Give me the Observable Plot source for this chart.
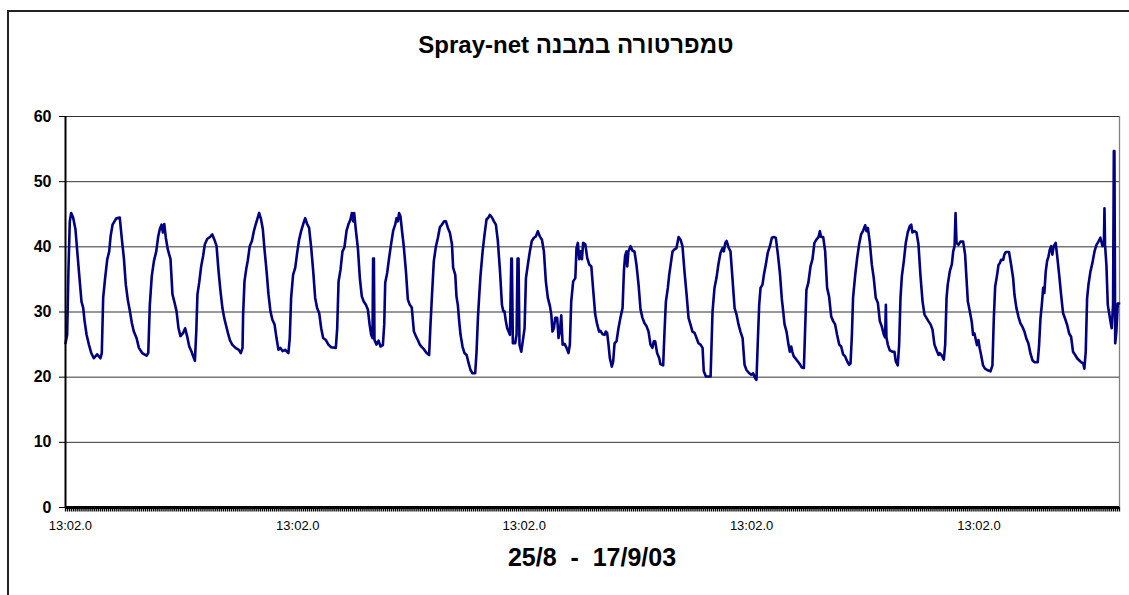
<!DOCTYPE html>
<html><head><meta charset="utf-8">
<script src="https://cdn.jsdelivr.net/npm/d3@7"></script>
<script src="https://cdn.jsdelivr.net/npm/@observablehq/plot@0.6"></script>
<style>
html,body{margin:0;padding:0;background:#fff;overflow:hidden;width:1129px;height:595px;}
#wrap{position:relative;width:1129px;height:595px;overflow:hidden;font-family:"Liberation Sans",Arial,Helvetica,sans-serif;color:#000;}
#frame{position:absolute;left:7px;top:10px;width:1300px;height:800px;border:2px solid #222;box-sizing:border-box;}
#chart{position:absolute;left:0;top:0;}
#title{position:absolute;left:0;width:1152px;top:31px;text-align:center;font-weight:bold;font-size:24px;line-height:28px;}
#xtitle{position:absolute;left:0;width:1184px;top:543px;text-align:center;font-weight:bold;font-size:25px;line-height:28px;white-space:pre;}
</style></head><body>
<div id="wrap">
<div id="frame"></div>
<div id="chart"></div>
<div id="title" dir="rtl">טמפרטורה במבנה Spray-net</div>
<div id="xtitle">25/8  -  17/9/03</div>
</div>
<script>
// Time since start of record (hours) and temperature (°C)
const hours = [
0,0.85,1.5,2.2,2.9,3.9,5.1,6.3,7.3,8.2,9.1,9.7,10.8,12.0,13.2,14.5,16.2,17.9,18.6,19.3,20.3,21.4,22.4,23.1,24.1,25.1,26.1,27.8,28.9,29.9,30.9,31.9,33.0,34.0,35.0,36.4,37.6,39.3,41.5,42.4,
43.2,44.2,45.3,46.5,47.5,48.3,49.2,49.9,50.6,51.4,52.4,53.8,54.8,55.9,56.9,57.9,58.9,60.3,61.3,62.3,63.4,64.6,65.4,66.3,67.0,67.6,68.5,69.5,70.5,71.4,72.6,74.0,75.2,76.3,77.4,78.4,79.4,80.4,81.3,82.2,83.2,84.2,85.4,87.1,88.8,89.8,90.7,
91.0,91.7,92.7,93.4,94.4,95.5,96.5,97.5,98.5,99.2,100.2,101.1,101.9,103.0,104.0,105.0,106.0,107.1,108.1,109.1,110.1,111.2,112.5,114.2,114.9,115.6,116.6,117.7,118.7,119.7,120.7,121.8,122.8,123.8,124.8,125.9,126.9,127.9,128.9,130.0,131.0,132.0,133.4,134.7,136.1,138.5,
139.2,139.9,140.9,141.9,142.9,144.0,145.0,146.0,146.7,147.4,147.9,148.7,149.8,150.8,151.8,152.8,153.9,154.9,155.8,156.6,157.3,157.6,158.0,158.3,159.3,160.4,161.4,162.6,163.3,163.8,164.8,165.8,166.9,167.9,168.9,169.6,170.3,170.9,171.6,172.5,173.3,174.4,175.4,176.4,177.4,178.5,179.5,180.5,181.5,182.6,
183.6,185.0,186.3,187.0,187.7,188.7,189.8,190.8,191.8,192.8,193.9,194.9,195.9,196.9,198.0,198.6,199.7,200.3,201.0,201.7,202.4,203.4,204.4,205.5,206.5,207.5,208.5,209.9,210.6,211.3,212.0,212.6,213.7,214.7,215.7,216.7,217.4,218.5,219.5,220.5,221.5,222.6,223.6,224.3,224.9,225.6,226.3,227.0,227.7,228.4,228.7,229.2,230.4,231.1,231.6,232.1,232.6,233.5,234.5,235.2,
235.9,236.9,237.9,238.9,240.0,241.0,242.0,243.0,244.1,245.1,246.1,247.1,248.2,248.9,249.5,250.2,250.9,251.9,252.6,253.3,254.0,254.7,255.7,256.7,257.7,258.4,259.1,260.1,261.2,261.8,262.5,263.2,263.9,264.6,265.2,266.3,267.3,268.3,269.4,270.4,271.4,272.4,273.4,
274.1,275.1,276.2,276.8,277.5,278.2,278.9,279.9,280.6,281.3,282.3,283.3,284.3,285.4,286.1,286.7,287.4,287.8,288.4,289.5,290.5,291.5,292.5,293.6,294.6,295.6,296.6,297.7,298.7,299.7,300.7,301.4,302.1,303.1,304.2,304.8,306.2,
306.9,307.6,308.6,309.3,310.3,311.0,312.0,313.0,314.1,315.1,316.1,317.1,318.2,319.2,320.2,321.2,322.3,323.3,324.3,325.3,326.4,327.0,328.1,330.5,
331.5,332.5,333.5,334.6,335.6,336.6,337.3,338.0,338.7,339.7,340.7,341.7,342.8,343.8,344.8,345.8,346.9,347.9,348.9,350.3,351.3,352.3,353.4,354.0,
354.7,355.4,356.1,357.1,357.8,358.8,359.8,360.9,361.9,362.9,363.9,365.0,366.0,367.0,367.7,368.4,369.4,370.4,371.1,371.8,372.4,373.1,374.2,375.2,376.2,377.2,378.3,
378.9,379.6,380.6,381.7,382.7,383.7,384.7,385.8,386.5,387.1,388.2,389.2,390.2,391.2,392.3,393.3,394.3,395.3,396.4,397.4,398.4,399.4,400.5,401.5,402.2,
402.9,403.5,404.6,405.6,406.6,407.6,408.7,409.7,410.4,411.1,412.1,413.1,414.1,415.1,416.2,417.2,418.2,419.3,419.9,420.3,420.6,421.3,422.3,423.7,424.7,425.4,426.4,
427.1,427.8,428.5,429.5,430.5,431.5,432.6,433.3,433.9,435.0,436.0,437.0,438.0,439.1,440.1,441.1,442.1,443.2,444.2,445.2,446.2,447.3,447.9,449.0,450.0,
450.7,451.4,452.0,453.1,454.1,454.8,455.5,456.0,456.5,457.5,458.5,459.9,460.9,461.6,462.3,463.3,464.3,465.0,465.7,466.4,467.0,467.7,468.4,469.1,470.1,471.1,472.2,473.9,474.9,
475.6,476.3,477.3,478.0,478.7,479.3,480.4,481.0,481.7,483.4,484.5,485.5,486.2,487.2,488.2,489.2,490.3,491.3,492.3,493.3,494.4,495.4,496.4,498.1,
498.8,499.5,500.2,500.9,501.5,502.2,502.9,503.6,504.3,505.0,505.6,506.3,507.3,508.0,509.1,510.1,511.1,512.1,513.2,514.2,515.2,516.2,517.3,518.3,519.3,520.3,521.4,522.0,
522.7,523.4,524.1,525.1,526.1,527.2,528.2,529.2,530.2,531.3,532.0,532.3,532.6,533.3,534.0,534.7,535.4,536.0,536.7,537.1,537.4,537.8,538.4,539.1,539.8
];
const temps = [
25.2,26.5,36.3,43.9,45.2,44.5,42.7,38.3,34.7,31.6,30.6,28.8,26.5,25.0,23.7,22.9,23.5,22.9,23.7,32.2,35.2,38.1,39.3,41.6,43.4,43.9,44.4,44.5,41.1,38.3,34.2,31.9,30.1,28.3,27.0,26.0,24.5,23.7,23.3,23.7,
31.1,35.5,37.8,39.3,41.6,42.7,43.4,42.2,43.5,41.4,39.6,38.1,32.7,31.4,30.1,27.5,26.3,26.8,27.5,26.3,24.7,23.9,23.2,22.5,27.0,32.7,34.5,37.0,38.6,40.4,41.2,41.5,41.9,41.1,40.1,36.3,33.2,30.6,29.1,28.0,26.8,25.7,25.0,24.5,24.2,23.7,24.5,
29.6,34.7,36.8,37.9,40.1,40.9,42.4,43.5,44.5,45.2,44.2,42.7,39.8,36.3,32.7,30.1,28.8,28.1,26.0,24.2,24.5,24.0,24.2,23.7,26.0,32.2,35.7,36.8,39.1,41.1,42.4,43.5,44.4,43.5,42.9,39.8,36.3,32.2,30.6,29.8,27.5,26.0,25.7,25.0,24.6,24.5,
27.5,34.7,36.5,39.3,39.9,42.5,43.5,44.2,45.2,43.9,45.2,42.7,39.8,35.2,32.4,31.6,31.1,30.4,28.1,26.5,26.0,38.2,38.2,25.7,25.0,25.6,24.7,24.9,28.1,34.5,36.0,38.3,40.6,42.5,43.4,44.4,43.9,45.2,44.7,42.2,40.1,36.3,31.9,31.1,30.7,27.0,26.3,25.7,25.0,24.6,
24.3,23.7,23.4,28.1,32.2,37.8,40.1,41.4,43.0,43.4,43.9,43.9,42.9,42.2,40.4,36.8,35.7,32.4,31.1,28.6,26.5,24.7,23.7,23.4,22.2,21.1,20.6,20.6,23.9,29.1,32.7,35.5,39.3,41.9,44.2,44.5,44.9,44.5,43.9,43.4,40.9,36.3,31.1,30.1,30.1,28.6,27.5,27.0,26.5,38.2,38.2,25.2,25.2,26.5,38.2,38.2,25.0,23.9,26.0,27.5,
35.2,37.3,39.3,40.9,41.4,41.6,42.4,41.6,41.1,39.3,34.7,32.2,30.9,29.6,27.0,27.5,29.1,29.1,26.0,27.0,29.5,25.0,25.1,24.5,23.7,25.0,31.6,34.7,35.2,39.8,40.6,38.1,39.3,38.1,40.6,40.4,38.3,37.3,37.0,33.2,29.6,28.1,27.0,
27.1,26.6,26.5,27.0,26.8,25.0,22.9,21.6,22.4,25.2,25.5,27.5,29.1,30.6,36.3,38.6,39.3,37.0,39.3,40.1,39.4,39.3,37.3,34.2,30.4,29.1,28.3,27.8,27.0,25.0,24.5,25.5,25.5,23.7,22.9,22.0,21.8,
27.0,31.6,33.7,35.7,37.8,39.3,39.6,39.8,41.5,41.1,40.1,36.3,32.7,29.1,28.1,27.0,26.8,26.0,25.2,25.0,24.5,20.9,20.1,20.1,
30.1,33.7,35.2,37.5,39.1,39.8,39.3,40.6,40.9,39.9,39.3,35.2,30.6,29.6,28.1,27.0,26.0,21.9,21.1,20.6,20.4,20.6,19.8,19.6,
25.5,31.1,33.7,34.2,35.7,37.3,39.1,40.1,41.4,41.5,41.4,38.8,36.0,32.0,30.1,28.1,27.0,25.0,23.9,24.7,23.9,23.2,22.8,22.4,22.0,21.5,21.4,
27.0,33.4,34.5,37.0,38.1,40.6,41.1,41.5,42.4,41.5,41.5,39.3,33.7,32.4,29.3,28.6,28.1,26.5,25.0,24.7,23.5,23.2,22.4,21.9,22.1,
26.5,32.2,35.7,38.3,40.4,41.9,42.5,43.3,42.4,42.9,40.6,37.3,35.2,32.2,31.4,28.6,27.8,26.5,26.1,31.1,26.1,25.0,24.1,23.9,23.9,22.4,21.8,
25.0,32.2,35.5,37.8,40.6,42.2,43.2,43.4,42.2,42.4,42.2,40.4,35.7,31.6,29.6,29.1,28.6,28.1,27.3,25.0,24.2,23.4,23.7,23.3,22.7,
25.0,32.2,34.2,36.3,37.3,39.3,40.1,45.2,40.6,40.3,40.8,40.8,38.8,35.2,31.6,30.1,28.5,26.5,26.7,25.7,24.9,25.7,24.4,23.4,21.8,21.3,21.1,20.9,21.8,
29.0,33.9,35.7,37.2,37.5,38.0,38.0,38.8,39.2,39.2,37.2,35.2,32.6,30.6,29.3,28.3,27.7,27.0,25.9,25.2,23.6,22.6,22.3,22.3,
24.9,29.0,31.1,33.7,32.9,36.2,37.8,38.5,39.6,40.1,38.8,40.1,40.6,38.8,35.7,32.6,29.8,29.0,28.0,26.7,26.2,23.9,23.4,22.9,22.6,22.3,22.1,21.3,
23.9,32.1,34.2,36.2,37.5,39.3,40.3,40.8,41.4,40.1,40.3,45.9,40.3,37.2,31.1,29.8,28.5,27.5,31.1,54.7,54.7,25.2,27.0,31.3,31.3
];
const yTicks = [0, 10, 20, 30, 40, 50, 60];
const xTickHours = [2.5, 119, 235, 351.5, 468];
const xTickLabels = ["13:02.0", "13:02.0", "13:02.0", "13:02.0", "13:02.0"];
const minorTicks = d3.range(0, 541, 1);
const xMax = 540;

const series = hours.map((h, i) => ({hour: h, temp: temps[i]}));

const chart = Plot.plot({
  width: 1129,
  height: 595,
  marginTop: 116,
  marginBottom: 88,
  marginLeft: 65,
  marginRight: 10,
  style: {fontFamily: "Liberation Sans, Arial, sans-serif", background: "transparent", color: "#000"},
  x: {domain: [0, xMax]},
  y: {domain: [0, 60]},
  marks: [
    Plot.gridY(yTicks, {stroke: "#333", strokeOpacity: 1, strokeWidth: 1}),
    Plot.ruleX([xMax], {stroke: "#808080", strokeWidth: 1.3}),
    Plot.axisY(yTicks, {tickSize: 6, tickPadding: 8, fontSize: 16, fontWeight: "bold", label: null}),
    Plot.axisX(minorTicks, {tickSize: 4.5, stroke: "#000", strokeWidth: 1.3, strokeOpacity: 1, tickFormat: () => "", label: null}),
    Plot.axisX(xTickHours, {tickSize: 0, tickPadding: 13, fontSize: 13, label: null,
      tickFormat: d => xTickLabels[xTickHours.indexOf(d)]}),
    Plot.line(series, {x: "hour", y: "temp", stroke: "#000080", strokeWidth: 2.6}),
    Plot.ruleX([0], {stroke: "#000", strokeWidth: 2}),
    Plot.ruleY([0], {stroke: "#000", strokeWidth: 3})
  ]
});
document.getElementById("chart").appendChild(chart);
</script>
</body></html>
